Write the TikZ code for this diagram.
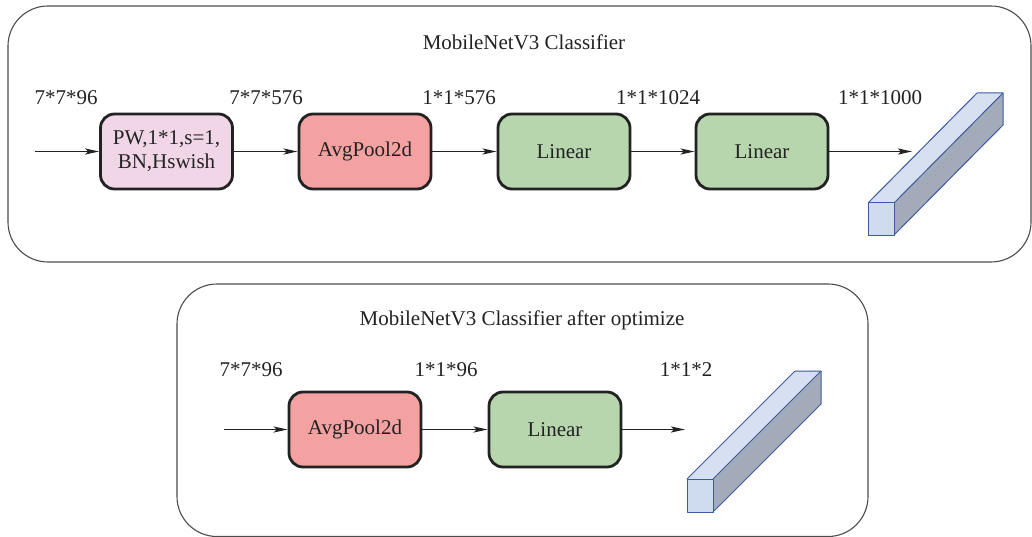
\documentclass[tikz,border=0pt]{standalone}
\usepackage{fontspec}
\setmainfont{LiberationSerif}[Extension=.ttf, UprightFont=*-Regular, BoldFont=*-Bold, ItalicFont=*-Italic, BoldItalicFont=*-BoldItalic]
\usetikzlibrary{arrows.meta}
\definecolor{pinkf}{HTML}{F0D6E6}
\definecolor{redf}{HTML}{F4A1A2}
\definecolor{greenf}{HTML}{B7D6AE}
\definecolor{barfront}{HTML}{CFDBEE}
\definecolor{bartop}{HTML}{D6E0F0}
\definecolor{barside}{HTML}{A3ABBA}
\definecolor{baredge}{HTML}{3B5B9C}
\definecolor{txt}{HTML}{222222}
\tikzset{
  outer/.style={draw=black!70, line width=1.1pt, rounded corners=40pt},
  blockbox/.style={draw=txt, line width=2.8pt, rounded corners=14pt, minimum width=132pt, minimum height=75pt, align=center, text=txt, font=\rmfamily\fontsize{21}{24}\selectfont, inner sep=0pt},
  dimlabel/.style={text=txt, font=\rmfamily\fontsize{21}{24}\selectfont, inner sep=0pt},
  titlelabel/.style={text=txt, font=\rmfamily\fontsize{21}{24}\selectfont, inner sep=0pt},
  flow/.style={draw=txt, line width=1.8pt, -{Stealth[length=14pt, width=6pt, inset=3pt]}},
  bar/.style={draw=baredge, line width=1pt, line join=round}
}
\begin{document}
\begin{tikzpicture}[x=1pt, y=-1pt]
\useasboundingbox (0,0) rectangle (1032,537);
% outer frames
\draw[outer] (8,6) rectangle (1031,262);
\draw[outer] (177,284) rectangle (868,536.5);
\node[titlelabel] (t1) at (524,42) {MobileNetV3 Classifier};
\node[titlelabel] (t2) at (522,320) {MobileNetV3 Classifier after optimize};
% top row
\node[blockbox, fill=pinkf] (pw) at (166.5,151.5) {PW,1*1,s=1,\\BN,Hswish};
\node[blockbox, fill=redf] (avg1) at (365,151.5) {AvgPool2d};
\node[blockbox, fill=greenf] (lin1) at (564,151.5) {Linear};
\node[blockbox, fill=greenf] (lin2) at (762,151.5) {Linear};
\coordinate (in1) at (35,151.5);
\coordinate (out1) at (912,151.5);
\draw[flow] (in1) -- (pw);
\draw[flow] (pw) -- (avg1);
\draw[flow] (avg1) -- (lin1);
\draw[flow] (lin1) -- (lin2);
\draw[flow] (lin2) -- (out1);
\node[dimlabel] (d1) at (66,98) {7*7*96};
\node[dimlabel] (d2) at (266,98) {7*7*576};
\node[dimlabel] (d3) at (459,98) {1*1*576};
\node[dimlabel] (d4) at (658,98) {1*1*1024};
\node[dimlabel] (d5) at (880,98) {1*1*1000};
% top bar
\fill[barside] (894,203) -- (894,235) -- (1003,125) -- (1003,93) -- cycle;
\fill[bartop] (868,203) -- (894,203) -- (1003,93) -- (977,93) -- cycle;
\fill[barfront] (868,203) rectangle (894,235);
\draw[bar] (868,203) rectangle (894,235);
\draw[bar] (868,203) -- (977,93) -- (1003,93) -- (894,203);
\draw[bar] (1003,93) -- (1003,125) -- (894,235);
% bottom row
\node[blockbox, fill=redf] (avg2) at (355,429.5) {AvgPool2d};
\node[blockbox, fill=greenf] (lin3) at (555,429.5) {Linear};
\coordinate (in2) at (224,429.5);
\coordinate (out2) at (685,429.5);
\draw[flow] (in2) -- (avg2);
\draw[flow] (avg2) -- (lin3);
\draw[flow] (lin3) -- (out2);
\node[dimlabel] (e1) at (251,370) {7*7*96};
\node[dimlabel] (e2) at (446,370) {1*1*96};
\node[dimlabel] (e3) at (686,370) {1*1*2};
% bottom bar
\fill[barside] (713,479) -- (713,512) -- (821,404) -- (821,371) -- cycle;
\fill[bartop] (687,479) -- (713,479) -- (821,371) -- (795,371) -- cycle;
\fill[barfront] (687,479) rectangle (713,512);
\draw[bar] (687,479) rectangle (713,512);
\draw[bar] (687,479) -- (795,371) -- (821,371) -- (713,479);
\draw[bar] (821,371) -- (821,404) -- (713,512);
\end{tikzpicture}
\end{document}
